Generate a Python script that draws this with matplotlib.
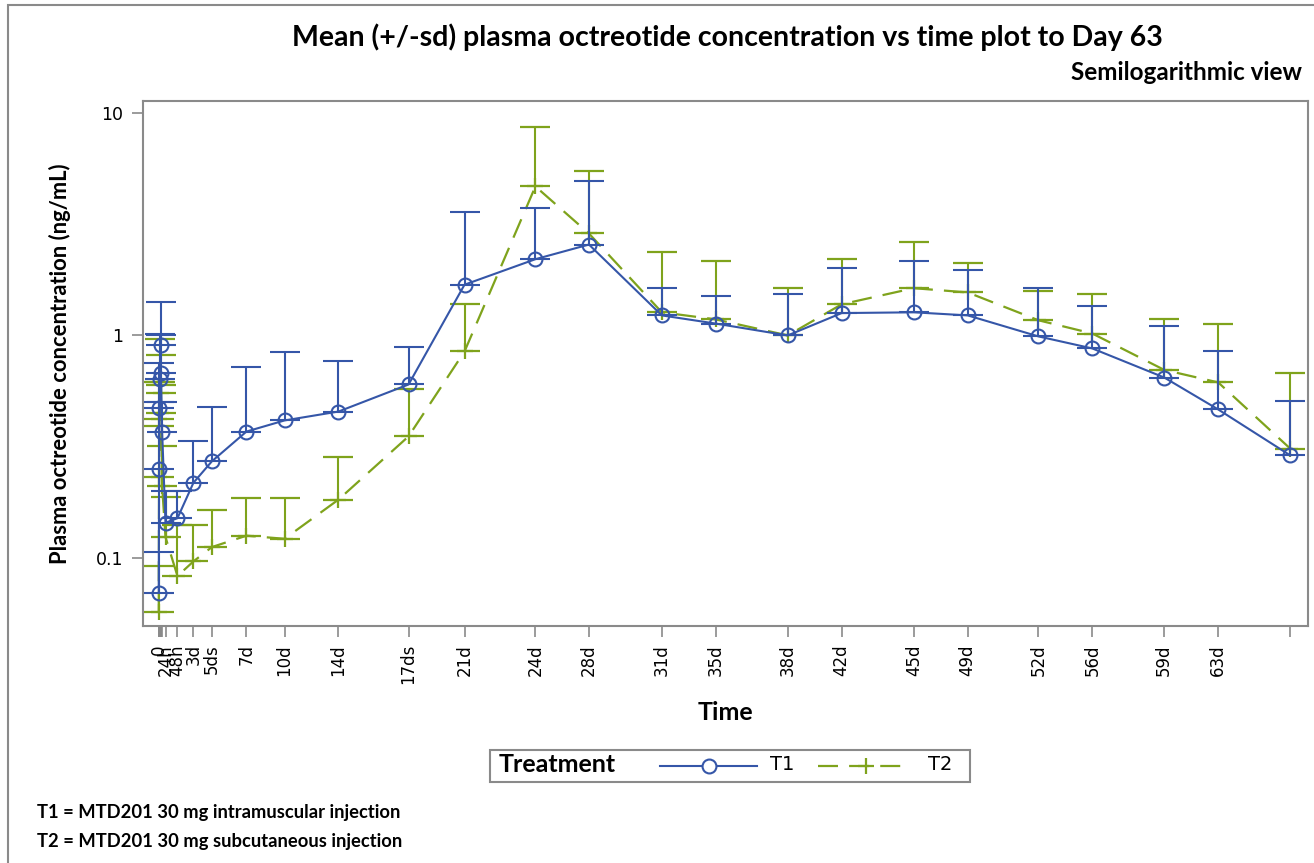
import matplotlib
matplotlib.use("Agg")

import matplotlib.pyplot as plt
import matplotlib.transforms as mtransforms
from matplotlib.lines import Line2D
from matplotlib.patches import Rectangle
from matplotlib.ticker import FixedLocator, NullLocator

# --- data ---
# sampling times on the plot's (non-linear) time axis, with their tick labels
time_pos = [0.0, 0.02, 0.05, 0.09, 0.13, 0.16, 0.25, 0.50, 1.39, 2.58, 3.95, 6.52,
            9.35, 13.36, 18.57, 22.73, 28.0, 31.98, 37.4, 41.41, 46.76, 50.77,
            56.13, 60.14, 65.39, 69.4, 74.75, 78.76, 84.12]
time_labels = ["0", "", "", "", "", "", "", "24h", "48h", "3d", "5ds", "7d",
               "10d", "14d", "17ds", "21d", "24d", "28d", "31d", "35d", "38d", "42d",
               "45d", "49d", "52d", "56d", "59d", "63d", ""]

t1_mean = [0.070, 0.25, 0.47, 0.64, 0.91, 0.68, 0.37, 0.144, 0.151, 0.218, 0.272, 0.370,
           0.415, 0.455, 0.602, 1.69, 2.20, 2.56, 1.23, 1.13, 1.00, 1.26,
           1.27, 1.23, 0.99, 0.874, 0.647, 0.465, 0.289]
t1_upper = [0.106, 0.50, 0.75, 1.02, 1.41, 1.00, 0.50, 0.199, 0.20, 0.334, 0.475, 0.72,
            0.84, 0.77, 0.89, 3.57, 3.72, 4.92, 1.63, 1.51, 1.54, 2.00,
            2.15, 1.96, 1.63, 1.35, 1.10, 0.85, 0.505]

t2_mean = [0.057, 0.23, 0.42, 0.62, 0.55, 0.45, 0.21, 0.124, 0.083, 0.0966, 0.112, 0.126,
           0.122, 0.183, 0.352, 0.847, 4.67, 2.87, 1.27, 1.18, 1.00, 1.38,
           1.63, 1.56, 1.17, 1.02, 0.70, 0.615, 0.31]
t2_upper = [0.092, 0.39, 0.615, 0.96, 0.82, 0.60, 0.317, 0.188, 0.141, 0.141, 0.164, 0.187,
            0.187, 0.283, 0.572, 1.39, 8.6, 5.46, 2.36, 2.15, 1.63, 2.20,
            2.62, 2.11, 1.58, 1.53, 1.18, 1.13, 0.68]

BLUE = "#3556a8"
GREEN = "#7fa31c"
FRAME = "#8a8a8a"
TEXT_FONT = ["Lato", "DejaVu Sans"]

W, H = 1314, 863


def fx(x):
    return x / W


def fy(y):
    return 1 - y / H


fig = plt.figure(figsize=(W / 100, H / 100), dpi=100)

# outer frame (only left and top edges fall inside the picture)
fig.add_artist(Rectangle((fx(8), fy(5) - 2), 2, 2, transform=fig.transFigure,
                         fill=False, edgecolor=FRAME, linewidth=1.5))

ax = fig.add_axes([fx(142.5), fy(626), fx(1307.5) - fx(142.5), fy(101) - fy(626)])
ax.set_yscale("log")
ax.set_ylim(0.0495, 11.3)
ax.set_xlim(-1.21, 85.4)


def upper_err(mean, upper):
    return [[0] * len(mean), [u - m for m, u in zip(mean, upper)]]


ax.errorbar(time_pos, t2_mean, yerr=upper_err(t2_mean, t2_upper), color=GREEN,
            linestyle=(0, (9, 5)), linewidth=1.6, marker="+", markersize=12,
            markeredgewidth=1.6, capsize=11, capthick=1.5, elinewidth=1.5, zorder=2)
ax.errorbar(time_pos, t1_mean, yerr=upper_err(t1_mean, t1_upper), color=BLUE,
            linestyle="-", linewidth=1.5, marker="o", markersize=10,
            markerfacecolor="none", markeredgewidth=1.5, capsize=11, capthick=1.5,
            elinewidth=1.5, zorder=3)

ax.yaxis.set_major_locator(FixedLocator([0.1, 1, 10]))
ax.yaxis.set_minor_locator(NullLocator())
ax.set_yticklabels(["0.1", "1", "10"])
ax.set_xticks(time_pos)
ax.set_xticklabels(time_labels, rotation=90, fontsize=12, family="DejaVu Sans")
# labels sit a little left of their ticks; the crowded first ones are spread out
label_shift = {"0": -10, "24h": -7}
for lab in ax.get_xticklabels():
    dx = label_shift.get(lab.get_text(), -6)
    shift = mtransforms.ScaledTranslation(dx / 100, 0, fig.dpi_scale_trans)
    lab.set_transform(lab.get_transform() + shift)
ax.tick_params(axis="x", length=8, width=1.2, color=FRAME, pad=5)
ax.tick_params(axis="y", length=8, width=1.2, color=FRAME, pad=6, labelsize=12.5)
for s in ax.spines.values():
    s.set_color(FRAME)
    s.set_linewidth(1.5)

ax.set_xlabel("Time", fontsize=18, fontweight="bold", family=TEXT_FONT, labelpad=12)
ax.set_ylabel("Plasma octreotide concentration (ng/mL)", fontsize=15.8,
              fontweight="bold", family=TEXT_FONT, labelpad=18)

fig.text(fx(727), fy(37), "Mean (+/-sd) plasma octreotide concentration vs time plot to Day 63",
         ha="center", va="center", fontsize=20.5, fontweight="bold", family=TEXT_FONT)
fig.text(fx(1302), fy(72), "Semilogarithmic view", ha="right", va="center",
         fontsize=17.5, fontweight="bold", family=TEXT_FONT)

# legend box, drawn by hand so the "Treatment" title sits on the same row
fig.add_artist(Rectangle((fx(490), fy(782)), fx(970) - fx(490), fy(750) - fy(782),
                         transform=fig.transFigure, fill=False, edgecolor=FRAME,
                         linewidth=1.5))
fig.text(fx(499), fy(764), "Treatment", ha="left", va="center", fontsize=18,
         fontweight="bold", family=TEXT_FONT)
fig.add_artist(Line2D([fx(660), fx(757)], [fy(766)] * 2, color=BLUE, linewidth=1.5,
                      transform=fig.transFigure))
fig.add_artist(Line2D([fx(709)], [fy(766)], color=BLUE, marker="o", markersize=10,
                      markerfacecolor="white", markeredgewidth=1.5,
                      transform=fig.transFigure))
fig.text(fx(770), fy(764), "T1", ha="left", va="center", fontsize=14, family="DejaVu Sans")
fig.add_artist(Line2D([fx(818), fx(908)], [fy(766)] * 2, color=GREEN, linewidth=1.6,
                      linestyle=(0, (9, 5)), transform=fig.transFigure))
fig.add_artist(Line2D([fx(866)], [fy(766)], color=GREEN, marker="+", markersize=12,
                      markeredgewidth=1.6, transform=fig.transFigure))
fig.text(fx(928), fy(764), "T2", ha="left", va="center", fontsize=14, family="DejaVu Sans")

fig.text(fx(37), fy(812), "T1 = MTD201 30 mg intramuscular injection", ha="left",
         va="center", fontsize=13.2, fontweight="bold", family=TEXT_FONT)
fig.text(fx(37), fy(841), "T2 = MTD201 30 mg subcutaneous injection", ha="left",
         va="center", fontsize=13.2, fontweight="bold", family=TEXT_FONT)

fig.savefig("out.png", dpi=100)
plt.close(fig)
